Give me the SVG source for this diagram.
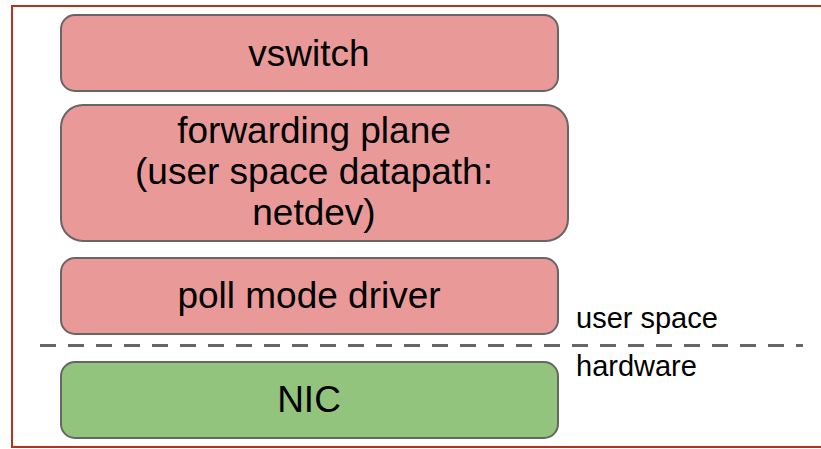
<svg xmlns="http://www.w3.org/2000/svg" width="821" height="449" viewBox="0 0 821 449">
  <style>
    .box { stroke: #666666; stroke-width: 2; }
    .user { fill: #ea9999; }
    .hw { fill: #93c47d; }
    .label { font-family: "Liberation Sans", Arial, sans-serif; font-size: 37px; fill: #000000; text-anchor: middle; }
    .side { font-family: "Liberation Sans", Arial, sans-serif; font-size: 29px; fill: #000000; }
  </style>

  <rect width="821" height="449" fill="#ffffff"/>

  <!-- outer frame (right edge runs past the canvas) -->
  <rect x="12" y="6" width="830" height="441" fill="none" stroke="#b7341c" stroke-width="2"/>

  <g id="vswitch">
    <rect class="box user" x="61" y="15" width="497" height="76" rx="14"/>
    <text class="label" x="309" y="66">vswitch</text>
  </g>

  <g id="forwarding-plane">
    <rect class="box user" x="61" y="105" width="507" height="136" rx="22"/>
    <text class="label" x="314" y="143">forwarding plane</text>
    <text class="label" x="314" y="184">(user space datapath:</text>
    <text class="label" x="314" y="225">netdev)</text>
  </g>

  <g id="poll-mode-driver">
    <rect class="box user" x="61" y="258" width="497" height="76" rx="14"/>
    <text class="label" x="309" y="308">poll mode driver</text>
  </g>

  <g id="nic">
    <rect class="box hw" x="61" y="362" width="497" height="76" rx="14"/>
    <text class="label" x="309" y="412">NIC</text>
  </g>

  <!-- user space / hardware boundary -->
  <g id="boundary">
    <line x1="40" y1="345.5" x2="803" y2="345.5" stroke="#666666" stroke-width="3" stroke-dasharray="16 12"/>
    <text class="side" x="576" y="328">user space</text>
    <text class="side" x="576" y="376">hardware</text>
  </g>
</svg>
